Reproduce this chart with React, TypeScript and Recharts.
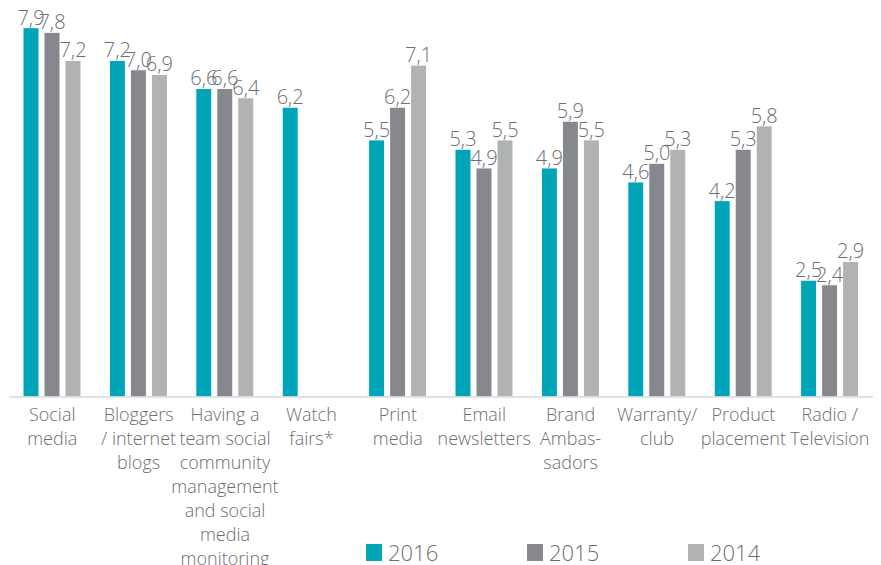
import { BarChart, Bar, XAxis, YAxis, LabelList, Legend } from 'recharts';

const categories = [
  'Social\nmedia',
  'Bloggers\n/ internet\nblogs',
  'Having a\nteam social\ncommunity\nmanagement\nand social\nmedia\nmonitoring',
  'Watch\nfairs*',
  'Print\nmedia',
  'Email\nnewsletters',
  'Brand\nAmbas-\nsadors',
  'Warranty/\nclub',
  'Product\nplacement',
  'Radio /\nTelevision',
];

const values2016 = [7.9, 7.2, 6.6, 6.2, 5.5, 5.3, 4.9, 4.6, 4.2, 2.5];
const values2015 = [7.8, 7.0, 6.6, null, 6.2, 4.9, 5.9, 5.0, 5.3, 2.4];
const values2014 = [7.2, 6.9, 6.4, null, 7.1, 5.5, 5.5, 5.3, 5.8, 2.9];

const series = [
  { key: 'y2016', name: '2016', color: '#00A6B7' },
  { key: 'y2015', name: '2015', color: '#86888D' },
  { key: 'y2014', name: '2014', color: '#B1B3B3' },
];

const data = categories.map((c, i) => ({
  name: c,
  y2016: values2016[i],
  y2015: values2015[i],
  y2014: values2014[i],
}));

const textColor = '#6d6e71';
const font = '"Open Sans", sans-serif';

const fmt = (v: any) => (v == null ? '' : Number(v).toFixed(1).replace('.', ','));

const CategoryTick = ({ x, y, payload }: any) => {
  const lines = String(payload.value).split('\n');
  return (
    <text x={x} y={y + 22} textAnchor="middle" fill={textColor} fontSize={18} fontFamily={font} fontWeight={300}>
      {lines.map((l, i) => (
        <tspan key={i} x={x} dy={i === 0 ? 0 : 24}>
          {l}
        </tspan>
      ))}
    </text>
  );
};

const LegendContent = () => (
  <div style={{ display: 'flex', paddingLeft: 358, fontFamily: font, fontWeight: 300 }}>
    {series.map((s) => (
      <div key={s.key} style={{ width: 161, display: 'flex', alignItems: 'center', color: textColor, fontSize: 22 }}>
        <span style={{ display: 'inline-block', width: 16, height: 17, background: s.color, marginRight: 6 }} />
        {s.name}
      </div>
    ))}
  </div>
);

export default function App() {
  return (
    <BarChart
      width={873}
      height={557}
      data={data}
      margin={{ top: 15, right: 8, left: 1, bottom: 138 }}
      barSize={16}
      barGap={5}
    >
      <XAxis
        dataKey="name"
        interval={0}
        tick={<CategoryTick />}
        tickLine={false}
        tickSize={0}
        axisLine={{ stroke: '#d9d9d9', strokeWidth: 1.5 }}
      />
      <YAxis hide domain={[0, 8]} />
      <Legend
        layout="horizontal"
        verticalAlign="middle"
        align="center"
        content={<LegendContent />}
        wrapperStyle={{ top: 529, left: 0, width: 873 }}
      />
      {series.map((s) => (
        <Bar key={s.key} dataKey={s.key} name={s.name} fill={s.color} stroke="#fff" strokeWidth={1} isAnimationActive={false}>
          <LabelList
            dataKey={s.key}
            position="top"
            offset={3}
            formatter={fmt}
            fill={textColor}
            fontSize={20}
            fontFamily={font}
            fontWeight={300}
          />
        </Bar>
      ))}
    </BarChart>
  );
}
